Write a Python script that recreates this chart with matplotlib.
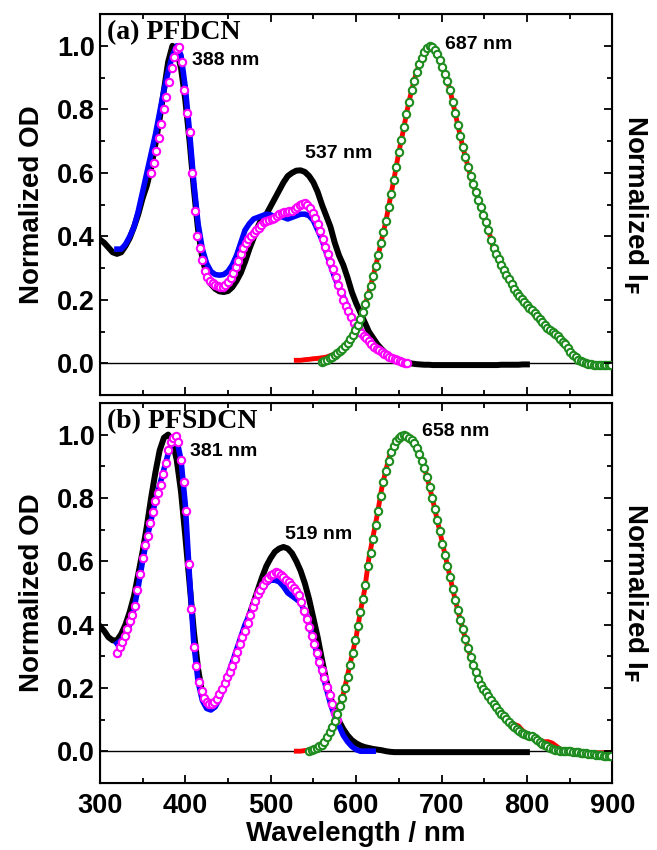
import numpy as np
import matplotlib
matplotlib.use("Agg")
from matplotlib import pyplot as plt
from matplotlib.ticker import MultipleLocator

plt.rcParams['font.family'] = ['Liberation Sans', 'DejaVu Sans']
plt.rcParams['font.weight'] = 'bold'
plt.rcParams['axes.labelweight'] = 'bold'
plt.rcParams['mathtext.default'] = 'bf'

# ---------------- panel (a) PFDCN ----------------
# black / blue / red: lines, sampled every 5 nm
# magenta / green: open circles, sampled every 3 nm
black_a_start, black_a_step = 300, 5
black_a = [0.39, 0.38, 0.365, 0.35, 0.345, 0.35, 0.37, 0.395, 0.43, 0.47,
           0.52, 0.56, 0.615, 0.69, 0.77, 0.86, 0.95, 1.0, 0.985, 0.93,
           0.83, 0.70, 0.55, 0.42, 0.33, 0.28, 0.25, 0.235, 0.227, 0.225,
           0.228, 0.24, 0.26, 0.285, 0.32, 0.36, 0.395, 0.43, 0.46, 0.47,
           0.495, 0.52, 0.545, 0.57, 0.59, 0.60, 0.607, 0.608, 0.603, 0.59,
           0.57, 0.54, 0.50, 0.465, 0.43, 0.38, 0.34, 0.31, 0.27, 0.225,
           0.19, 0.16, 0.13, 0.10, 0.08, 0.06, 0.045, 0.032, 0.022, 0.015,
           0.01, 0.006, 0.003, 0.0, -0.002, -0.003, -0.004, -0.004, -0.005, -0.005,
           -0.005, -0.005, -0.005, -0.005, -0.005, -0.005, -0.005, -0.005, -0.005, -0.005,
           -0.005, -0.005, -0.005, -0.005, -0.004, -0.004, -0.004, -0.004, -0.004, -0.003,
           -0.003]

blue_a_start, blue_a_step = 320, 5
blue_a = [0.36, 0.36, 0.375, 0.40, 0.43, 0.48, 0.54, 0.60, 0.66, 0.72,
          0.79, 0.86, 0.92, 0.97, 1.0, 0.97, 0.87, 0.73, 0.57, 0.44,
          0.36, 0.315, 0.29, 0.28, 0.278, 0.28, 0.29, 0.31, 0.34, 0.38,
          0.42, 0.44, 0.455, 0.46, 0.465, 0.47, 0.468, 0.46, 0.465, 0.46,
          0.455, 0.46, 0.465, 0.47, 0.47, 0.465, 0.45, 0.42, 0.39, 0.35,
          0.31, 0.27, 0.24, 0.21, 0.18]

mag_a_start, mag_a_step = 360, 3
mag_a = [0.60, 0.63, 0.67, 0.71, 0.755, 0.80, 0.84, 0.885, 0.93, 0.965,
         0.99, 0.995, 0.95, 0.86, 0.79, 0.73, 0.60, 0.48, 0.40, 0.365,
         0.325, 0.29, 0.272, 0.26, 0.253, 0.247, 0.243, 0.24, 0.242, 0.248,
         0.258, 0.27, 0.285, 0.303, 0.324, 0.345, 0.363, 0.379, 0.391, 0.402,
         0.41, 0.419, 0.428, 0.437, 0.444, 0.45, 0.453, 0.456, 0.459, 0.464,
         0.47, 0.473, 0.476, 0.478, 0.479, 0.48, 0.486, 0.492, 0.498, 0.502,
         0.505, 0.50, 0.49, 0.475, 0.458, 0.44, 0.416, 0.392, 0.368, 0.344,
         0.32, 0.296, 0.272, 0.248, 0.224, 0.20, 0.182, 0.164, 0.146, 0.128,
         0.115, 0.106, 0.097, 0.088, 0.079, 0.07, 0.061, 0.053, 0.047, 0.041,
         0.035, 0.03, 0.026, 0.021, 0.017, 0.013, 0.01, 0.007, 0.005, 0.003,
         0.002]

red_a_start, red_a_step = 530, 5
red_a = [0.01, 0.01, 0.012, 0.013, 0.015, 0.016, 0.018, 0.02, 0.025, 0.03,
         0.04, 0.05, 0.065, 0.085, 0.11, 0.14, 0.18, 0.225, 0.275, 0.33,
         0.39, 0.45, 0.52, 0.59, 0.665, 0.73, 0.80, 0.86, 0.91, 0.95,
         0.98, 0.997, 0.995, 0.975, 0.94, 0.905, 0.86, 0.80, 0.74, 0.68,
         0.63, 0.58, 0.54, 0.50, 0.46, 0.42, 0.37, 0.34, 0.31, 0.285,
         0.26, 0.235, 0.215, 0.20, 0.185, 0.17, 0.155, 0.14, 0.125, 0.11,
         0.10, 0.09, 0.075, 0.06, 0.04, 0.025, 0.012, 0.005, 0.0, -0.003,
         -0.004, -0.005, -0.005, -0.006, -0.006]

green_a_start, green_a_step = 560, 3
green_a = [0.005, 0.008, 0.011, 0.016, 0.021, 0.026, 0.032, 0.038, 0.045, 0.054,
           0.064, 0.076, 0.09, 0.105, 0.122, 0.14, 0.163, 0.188, 0.215, 0.245,
           0.275, 0.308, 0.342, 0.378, 0.414, 0.45, 0.492, 0.534, 0.576, 0.62,
           0.665, 0.705, 0.744, 0.786, 0.824, 0.86, 0.89, 0.918, 0.942, 0.962,
           0.98, 0.992, 0.998, 0.996, 0.988, 0.975, 0.955, 0.933, 0.912, 0.888,
           0.86, 0.824, 0.788, 0.752, 0.716, 0.68, 0.65, 0.62, 0.59, 0.564,
           0.54, 0.516, 0.492, 0.468, 0.444, 0.42, 0.39, 0.364, 0.346, 0.328,
           0.31, 0.295, 0.28, 0.265, 0.25, 0.235, 0.223, 0.212, 0.203, 0.194,
           0.185, 0.176, 0.167, 0.158, 0.149, 0.14, 0.131, 0.122, 0.113, 0.106,
           0.10, 0.094, 0.087, 0.078, 0.069, 0.06, 0.048, 0.036, 0.028, 0.019,
           0.012, 0.007, 0.004, 0.001, -0.001, -0.003, -0.004, -0.004, -0.005, -0.005,
           -0.005, -0.006, -0.006, -0.006]

# ---------------- panel (b) PFSDCN ----------------
black_b_start, black_b_step = 300, 5
black_b = [0.395, 0.38, 0.36, 0.35, 0.35, 0.37, 0.40, 0.44, 0.49, 0.56,
           0.63, 0.71, 0.80, 0.88, 0.95, 0.99, 1.0, 0.98, 0.92, 0.82,
           0.68, 0.53, 0.38, 0.26, 0.18, 0.145, 0.14, 0.15, 0.17, 0.20,
           0.235, 0.27, 0.31, 0.35, 0.385, 0.43, 0.47, 0.51, 0.55, 0.585,
           0.61, 0.63, 0.64, 0.645, 0.64, 0.625, 0.60, 0.57, 0.53, 0.48,
           0.42, 0.36, 0.29, 0.225, 0.17, 0.13, 0.095, 0.07, 0.05, 0.035,
           0.025, 0.018, 0.013, 0.01, 0.007, 0.005, 0.003, 0.0, -0.002, -0.003,
           -0.003, -0.003, -0.003, -0.003, -0.003, -0.003, -0.003, -0.003, -0.003, -0.003,
           -0.003, -0.003, -0.003, -0.003, -0.003, -0.003, -0.003, -0.003, -0.003, -0.003,
           -0.003, -0.003, -0.003, -0.003, -0.003, -0.003, -0.003, -0.003, -0.003, -0.003,
           -0.003]

blue_b_start, blue_b_step = 320, 5
blue_b = [0.34, 0.35, 0.37, 0.40, 0.45, 0.52, 0.60, 0.67, 0.73, 0.79,
          0.84, 0.89, 0.94, 0.98, 0.985, 0.92, 0.78, 0.55, 0.34, 0.22,
          0.16, 0.135, 0.13, 0.14, 0.165, 0.20, 0.24, 0.28, 0.32, 0.36,
          0.40, 0.43, 0.46, 0.49, 0.51, 0.53, 0.54, 0.54, 0.535, 0.52,
          0.50, 0.49, 0.48, 0.47, 0.44, 0.40, 0.35, 0.30, 0.25, 0.20,
          0.15, 0.11, 0.08, 0.05, 0.03, 0.015, 0.005, 0.0, 0.0, 0.0,
          0.0]

mag_b_start, mag_b_step = 320, 3
mag_b = [0.31, 0.33, 0.345, 0.365, 0.385, 0.41, 0.43, 0.46, 0.51, 0.56,
         0.61, 0.65, 0.68, 0.72, 0.755, 0.79, 0.815, 0.84, 0.875, 0.91,
         0.95, 0.975, 0.99, 0.995, 0.975, 0.92, 0.85, 0.76, 0.59, 0.45,
         0.33, 0.27, 0.22, 0.19, 0.168, 0.155, 0.148, 0.15, 0.156, 0.165,
         0.18, 0.197, 0.215, 0.233, 0.25, 0.268, 0.29, 0.313, 0.337, 0.36,
         0.38, 0.405, 0.43, 0.455, 0.475, 0.495, 0.51, 0.525, 0.54, 0.548,
         0.555, 0.56, 0.565, 0.562, 0.556, 0.55, 0.542, 0.533, 0.524, 0.515,
         0.506, 0.493, 0.47, 0.443, 0.418, 0.393, 0.365, 0.337, 0.309, 0.281,
         0.255, 0.23, 0.203, 0.176, 0.148, 0.121, 0.10]

red_b_start, red_b_step = 530, 5
red_b = [0.0, 0.0, 0.002, 0.003, 0.005, 0.012, 0.02, 0.04, 0.065, 0.10,
         0.14, 0.18, 0.24, 0.30, 0.36, 0.44, 0.51, 0.61, 0.68, 0.75,
         0.83, 0.89, 0.94, 0.97, 0.99, 1.0, 0.995, 0.985, 0.965, 0.935,
         0.895, 0.845, 0.79, 0.73, 0.67, 0.61, 0.55, 0.49, 0.435, 0.385,
         0.335, 0.29, 0.25, 0.215, 0.19, 0.17, 0.15, 0.13, 0.115, 0.10,
         0.09, 0.085, 0.08, 0.065, 0.055, 0.048, 0.04, 0.035, 0.03, 0.03,
         0.025, 0.015, 0.005, 0.0, 0.0, -0.002, -0.003, -0.004, -0.005, -0.005,
         -0.005, -0.005, -0.005, -0.005, -0.005]

green_b_start, green_b_step = 545, 3
green_b = [0.0, 0.003, 0.006, 0.01, 0.015, 0.02, 0.03, 0.044, 0.06, 0.076,
           0.095, 0.118, 0.142, 0.168, 0.2, 0.235, 0.272, 0.31, 0.35, 0.395,
           0.44, 0.48, 0.525, 0.585, 0.625, 0.67, 0.715, 0.76, 0.805, 0.85,
           0.885, 0.918, 0.945, 0.965, 0.98, 0.99, 0.997, 1.0, 0.997, 0.99,
           0.983, 0.972, 0.958, 0.94, 0.918, 0.895, 0.865, 0.835, 0.80, 0.765,
           0.73, 0.695, 0.655, 0.62, 0.585, 0.55, 0.513, 0.478, 0.445, 0.415,
           0.385, 0.355, 0.325, 0.298, 0.272, 0.25, 0.228, 0.21, 0.195, 0.186,
           0.174, 0.162, 0.15, 0.138, 0.127, 0.118, 0.11, 0.101, 0.092, 0.083,
           0.077, 0.071, 0.064, 0.059, 0.055, 0.052, 0.049, 0.047, 0.042, 0.035,
           0.028, 0.022, 0.018, 0.015, 0.01, 0.007, 0.005, 0.003, 0.002, 0.001,
           0.0, 0.0, 0.0, -0.002, -0.003, -0.004, -0.005, -0.006, -0.007, -0.008,
           -0.009, -0.01, -0.011, -0.012, -0.013, -0.014, -0.015, -0.016, -0.016]


def wl(start, step, vals):
    return start + step * np.arange(len(vals))


panels = [
    ("(a) PFDCN",
     wl(black_a_start, black_a_step, black_a), black_a,
     wl(blue_a_start, blue_a_step, blue_a), blue_a,
     wl(mag_a_start, mag_a_step, mag_a), mag_a,
     wl(red_a_start, red_a_step, red_a), red_a,
     wl(green_a_start, green_a_step, green_a), green_a,
     [("388 nm", 407.5, 0.953), ("537 nm", 540, 0.66), ("687 nm", 704, 1.003)]),
    ("(b) PFSDCN",
     wl(black_b_start, black_b_step, black_b), black_b,
     wl(blue_b_start, blue_b_step, blue_b), blue_b,
     wl(mag_b_start, mag_b_step, mag_b), mag_b,
     wl(red_b_start, red_b_step, red_b), red_b,
     wl(green_b_start, green_b_step, green_b), green_b,
     [("381 nm", 405.5, 0.948), ("519 nm", 517, 0.685), ("658 nm", 677, 1.01)]),
]

fig = plt.figure(figsize=(6.57, 8.5), dpi=100)
rects = [[0.152, 0.535, 0.78, 0.4485], [0.152, 0.079, 0.78, 0.447]]

green = '#1e8c1e'
for i, (title, xk, yk, xb, yb, xm, ym, xr, yr, xg, yg, notes) in enumerate(panels):
    ax = fig.add_axes(rects[i])
    ax.axhline(0, color='black', lw=1, zorder=1)
    ax.plot(xk, yk, color='black', lw=4.3, zorder=2)
    ax.plot(xb, yb, color='blue', lw=4, zorder=3)
    ax.plot(xm, ym, 'o', mfc='white', mec='magenta', ms=5.3, mew=1.5, zorder=4)
    ax.plot(xr, yr, color='red', lw=3.5, zorder=3)
    ax.plot(xg, yg, 'o', mfc='white', mec=green, ms=5.3, mew=1.5, zorder=4)

    ax.set_xlim(300, 900)
    ax.set_ylim(-0.1, 1.1)
    ax.xaxis.set_major_locator(MultipleLocator(100))
    ax.xaxis.set_minor_locator(MultipleLocator(50))
    ax.yaxis.set_major_locator(MultipleLocator(0.2))
    ax.yaxis.set_minor_locator(MultipleLocator(0.1))
    ax.tick_params(which='both', direction='in', top=True, right=True, labelsize=19.5, width=1.3)
    ax.tick_params(which='major', length=6)
    ax.tick_params(which='minor', length=3.5)
    ax.tick_params(axis='x', pad=7)
    for s in ax.spines.values():
        s.set_linewidth(1.5)
    ax.set_ylabel("Normalized OD", fontsize=20, labelpad=9)

    ax2 = ax.twinx()
    ax2.set_ylim(-0.1, 1.1)
    ax2.yaxis.set_major_locator(MultipleLocator(0.2))
    ax2.yaxis.set_minor_locator(MultipleLocator(0.1))
    ax2.tick_params(which='both', direction='in', labelright=False)
    ax2.tick_params(which='major', length=6, width=1.3)
    ax2.tick_params(which='minor', length=3.5, width=1.3)
    ax2.set_ylabel("Normalized I$_\\mathbf{F}$", fontsize=20, rotation=270, labelpad=27)

    ax.text(308, 1.04, title, fontsize=20, fontweight='bold',
            family=['Liberation Serif', 'DejaVu Serif'], va='center', ha='left')
    for txt, x, y in notes:
        ax.text(x, y, txt, fontsize=14, fontweight='bold', va='center', ha='left')

    if i == 0:
        ax.tick_params(labelbottom=False)
    else:
        ax.set_xlabel("Wavelength / nm", fontsize=20, labelpad=2)

fig.savefig("out.png", dpi=100)
